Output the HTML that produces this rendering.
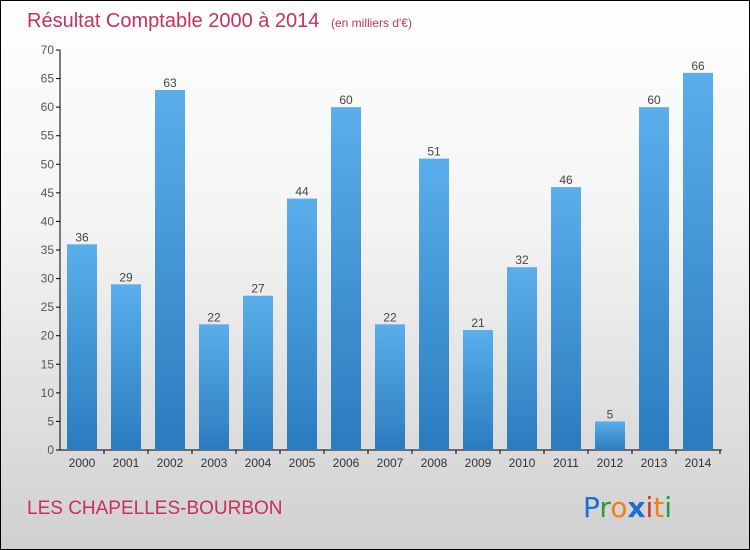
<!DOCTYPE html>
<html><head><meta charset="utf-8"><style>
body{margin:0}
#wrap{position:relative;width:748px;height:548px;border:1px solid #000;background:linear-gradient(#ffffff 0%,#f4f4f4 40%,#d0d0d0 100%);font-family:"Liberation Sans",sans-serif;overflow:hidden}
</style></head><body>
<div id="wrap">
<svg id="chart" width="748" height="548">
<defs><linearGradient id="bg" x1="0" y1="0" x2="0" y2="1"><stop offset="0" stop-color="#5aaeea"/><stop offset="1" stop-color="#2a7cbf"/></linearGradient></defs>
<text x="26" y="26" font-size="20" fill="#c8305a">Résultat Comptable 2000 à 2014 <tspan font-size="12" dx="6">(en milliers d'€)</tspan></text>
<text x="26" y="513" font-size="19" fill="#c8305a">LES CHAPELLES-BOURBON</text>
<g font-size="28" font-family="'DejaVu Sans',sans-serif">
<text x="582" y="516"><tspan fill="#1a6fd0">P</tspan><tspan fill="#2a9a3a">r</tspan><tspan fill="#f08010">o</tspan><tspan fill="#1a6fd0" font-weight="bold">x</tspan><tspan fill="#e03020">i</tspan><tspan fill="#f08010">t</tspan><tspan fill="#2a9a3a">i</tspan></text></g>
<g id="axes"></g><g id="bars"></g>
</svg></div>
<script>
const categories=["2000","2001","2002","2003","2004","2005","2006","2007","2008","2009","2010","2011","2012","2013","2014"];
const values=[36,29,63,22,27,44,60,22,51,21,32,46,5,60,66];
const yTicks=[0,5,10,15,20,25,30,35,40,45,50,55,60,65,70];
const NS="http://www.w3.org/2000/svg";
const y=v=>449-v*400/70, x=i=>81+i*44;
function mk(t,a,p,txt){const e=document.createElementNS(NS,t);for(const k in a)e.setAttribute(k,a[k]);if(txt!==undefined)e.textContent=txt;p.appendChild(e);return e;}
const ax=document.getElementById('axes'),bs=document.getElementById('bars');
let l=mk('line',{x1:59,y1:49,x2:59,y2:449,stroke:'#000'},ax);


l=mk('line',{x1:59,y1:449,x2:721,y2:449,stroke:'#000'},ax);


yTicks.forEach(v=>{mk('line',{x1:55,y1:y(v),x2:59,y2:y(v),stroke:'#000'},ax);
const t=mk('text',{x:53,y:y(v)+4,'font-size':12,fill:'#555','text-anchor':'end'},ax,v);

});
categories.forEach((c,i)=>{
const r=mk('rect',{x:x(i)-15,y:y(values[i]),width:30,height:449-y(values[i]),fill:'url(#bg)'},bs);


const v=mk('text',{x:x(i),y:y(values[i])-3,'font-size':12,fill:'#444','text-anchor':'middle'},bs,values[i]);


mk('line',{x1:x(i)+22,y1:449,x2:x(i)+22,y2:453,stroke:'#000'},ax);
const t=mk('text',{x:x(i),y:466,'font-size':12,fill:'#333','text-anchor':'middle'},ax,c);

});
</script></body></html>
